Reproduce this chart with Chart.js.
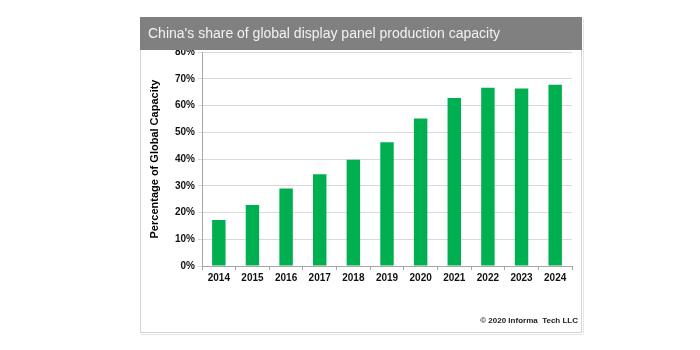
<!DOCTYPE html>
<html>
<head>
<meta charset="utf-8">
<script src="https://cdn.jsdelivr.net/npm/chart.js@4"></script>
<style>
  body { margin: 0; background: #fff; }
  #wrap { width: 700px; height: 350px; }
</style>
</head>
<body>
<div id="wrap"><canvas id="myChart" width="700" height="350"></canvas></div>
<script>
'use strict';

var years = ["2014", "2015", "2016", "2017", "2018", "2019", "2020", "2021", "2022", "2023", "2024"];
var share = [17.2, 22.8, 29.0, 34.3, 39.7, 46.3, 55.1, 62.8, 66.6, 66.4, 67.8];
var titleText = "China's share of global display panel production capacity";
var yTitle = "Percentage of Global Capacity";
var credit = "\u00A9 2020 Informa  Tech LLC";

var FONT = "'Liberation Sans', Arial, sans-serif";

// frame, grey header band and credit line
var framePlugin = {
  id: 'frame',
  beforeDraw: function(chart) {
    var c = chart.ctx;
    c.save();
    c.fillStyle = '#fff';
    c.fillRect(140, 17, 442, 316);
    c.restore();
  },
  afterDraw: function(chart) {
    var c = chart.ctx;
    c.save();
    c.strokeStyle = '#d4d4d4';
    c.lineWidth = 1;
    c.strokeRect(140.5, 17.5, 441, 315);
    c.strokeStyle = '#e6e6e6';
    c.beginPath();
    c.moveTo(141, 334.5); c.lineTo(583, 334.5);
    c.moveTo(583.5, 18); c.lineTo(583.5, 334);
    c.stroke();
    c.fillStyle = '#808080';
    c.fillRect(140, 17, 442, 33);
    c.fillStyle = '#f2f2f2';
    c.font = '14px ' + FONT;
    c.textBaseline = 'middle';
    c.fillText(titleText, 148, 34);
    c.fillStyle = '#222';
    c.font = 'bold 8px ' + FONT;
    c.textAlign = 'right';
    c.fillText(credit, 578, 321);
    c.restore();
  }
};

var ctx = document.getElementById('myChart').getContext('2d');

var chart = new Chart(ctx, {
  type: 'bar',
  data: {
    labels: years,
    datasets: [{
      label: 'Share',
      backgroundColor: '#00B050',
      data: share,
      barPercentage: 0.4,
      categoryPercentage: 1
    }]
  },
  options: {
    responsive: false,
    animation: false,
    layout: { padding: { left: 140, right: 128, top: 52, bottom: 60 } },
    plugins: {
      legend: { display: false },
      tooltip: { enabled: false }
    },
    scales: {
      x: {
        grid: { offset: true, drawOnChartArea: false, color: '#a6a6a6', tickLength: 4 },
        border: { color: '#a6a6a6' },
        ticks: { color: '#111', font: { family: FONT, size: 10, weight: 'bold' }, padding: 2, maxRotation: 0 },
        afterFit: function(s) { s.height = 24; }
      },
      y: {
        min: 0,
        max: 80,
        grid: { color: '#d9d9d9', tickLength: 4 },
        border: { color: '#a6a6a6' },
        ticks: {
          stepSize: 10,
          color: '#111',
          padding: 3,
          font: { family: FONT, size: 10, weight: 'bold' },
          callback: function(v) { return v + '%'; }
        },
        title: {
          display: true,
          text: yTitle,
          color: '#000',
          font: { family: FONT, size: 11, weight: 'bold' },
          padding: { top: 8, bottom: 0 }
        },
        afterFit: function(s) { s.width = 62; }
      }
    }
  },
  plugins: [framePlugin]
});
</script>
</body>
</html>
